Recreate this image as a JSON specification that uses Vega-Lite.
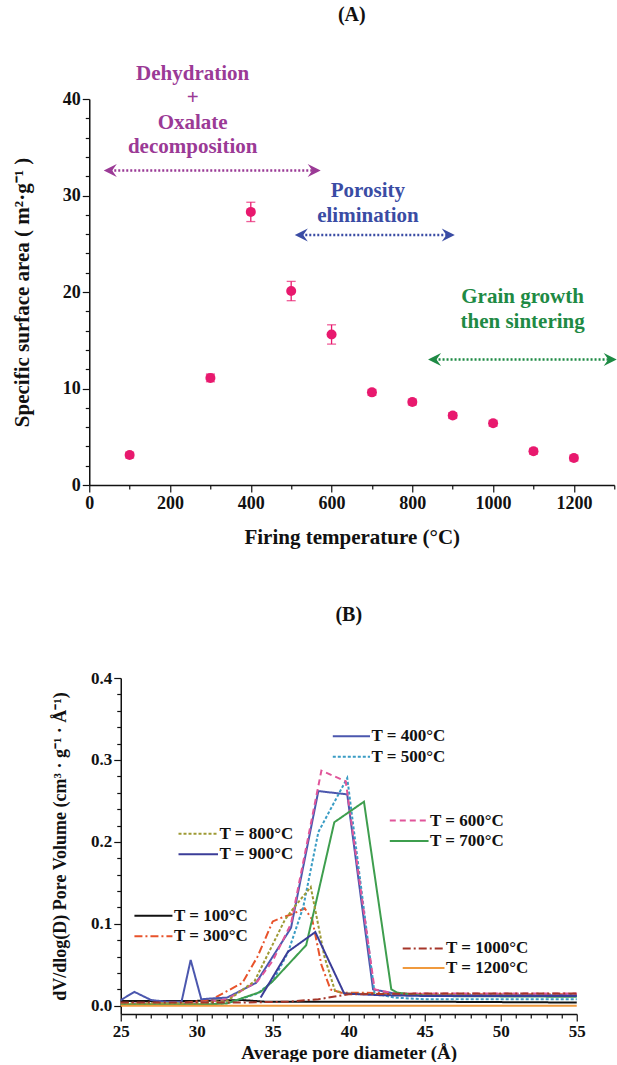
{
  "$schema": "https://vega.github.io/schema/vega-lite/v6.json",
  "padding": {"top": 4, "left": 11, "right": 0, "bottom": 0},
  "spacing": 58,
  "center": true,
  "resolve": {"scale": {"color": "independent", "strokeDash": "independent"}},
  "config": {
    "font": "Liberation Serif",
    "view": {"stroke": null},
    "axis": {
      "labelFont": "Liberation Serif", "labelFontWeight": "bold", "labelFontSize": 18, "labelColor": "#111",
      "titleFont": "Liberation Serif", "titleFontWeight": "bold", "titleFontSize": 21, "titleColor": "#111",
      "domainColor": "#111", "tickColor": "#111", "domainWidth": 1.5, "tickWidth": 1.2,
      "grid": false, "labelOverlap": false, "labelFlush": false
    },
    "title": {"font": "Liberation Serif", "fontWeight": "bold", "fontSize": 20, "color": "#111"}
  },
  "datasets": {
    "ssa": [
      {"T": 100, "S": 3.1, "lo": 2.8, "hi": 3.4},
      {"T": 300, "S": 11.1, "lo": 10.7, "hi": 11.5},
      {"T": 400, "S": 28.3, "lo": 27.3, "hi": 29.3},
      {"T": 500, "S": 20.1, "lo": 19.1, "hi": 21.1},
      {"T": 600, "S": 15.6, "lo": 14.6, "hi": 16.6},
      {"T": 700, "S": 9.6, "lo": 9.3, "hi": 9.9},
      {"T": 800, "S": 8.6, "lo": 8.3, "hi": 8.9},
      {"T": 900, "S": 7.2, "lo": 6.9, "hi": 7.5},
      {"T": 1000, "S": 6.4, "lo": 6.1, "hi": 6.7},
      {"T": 1100, "S": 3.5, "lo": 3.2, "hi": 3.8},
      {"T": 1200, "S": 2.8, "lo": 2.5, "hi": 3.1}
    ],
    "notes": [
      {"x": 256, "y": 42.6, "text": "Dehydration", "g": "a"},
      {"x": 256, "y": 40.1, "text": "+", "g": "a"},
      {"x": 256, "y": 37.5, "text": "Oxalate", "g": "a"},
      {"x": 256, "y": 35.0, "text": "decomposition", "g": "a"},
      {"x": 690, "y": 30.5, "text": "Porosity", "g": "b"},
      {"x": 690, "y": 27.9, "text": "elimination", "g": "b"},
      {"x": 1073, "y": 19.5, "text": "Grain growth", "g": "c"},
      {"x": 1073, "y": 16.9, "text": "then sintering", "g": "c"}
    ],
    "arrows": [
      {"x1": 52, "x2": 557, "y": 32.6, "g": "a"},
      {"x1": 525, "x2": 889, "y": 25.9, "g": "b"},
      {"x1": 855, "x2": 1290, "y": 13.0, "g": "c"}
    ],
    "curves": [
      {"T": "100", "d": 25, "v": 0.006}, {"T": "100", "d": 30, "v": 0.006}, {"T": "100", "d": 33, "v": 0.007}, {"T": "100", "d": 34.5, "v": 0.005}, {"T": "100", "d": 40, "v": 0.005}, {"T": "100", "d": 45, "v": 0.005}, {"T": "100", "d": 55, "v": 0.004},
      {"T": "300", "d": 25, "v": 0.003}, {"T": "300", "d": 29, "v": 0.003}, {"T": "300", "d": 31, "v": 0.008}, {"T": "300", "d": 33, "v": 0.028}, {"T": "300", "d": 34, "v": 0.06}, {"T": "300", "d": 35, "v": 0.103}, {"T": "300", "d": 35.5, "v": 0.107}, {"T": "300", "d": 36.3, "v": 0.112}, {"T": "300", "d": 37.1, "v": 0.119}, {"T": "300", "d": 37.6, "v": 0.105}, {"T": "300", "d": 38.2, "v": 0.05}, {"T": "300", "d": 38.8, "v": 0.02}, {"T": "300", "d": 39.5, "v": 0.016}, {"T": "300", "d": 41, "v": 0.016}, {"T": "300", "d": 45, "v": 0.014}, {"T": "300", "d": 55, "v": 0.014},
      {"T": "400", "d": 25, "v": 0.007}, {"T": "400", "d": 25.9, "v": 0.017}, {"T": "400", "d": 27, "v": 0.007}, {"T": "400", "d": 28, "v": 0.005}, {"T": "400", "d": 29, "v": 0.005}, {"T": "400", "d": 29.6, "v": 0.056}, {"T": "400", "d": 30.3, "v": 0.008}, {"T": "400", "d": 31, "v": 0.009}, {"T": "400", "d": 32, "v": 0.01}, {"T": "400", "d": 33.9, "v": 0.028}, {"T": "400", "d": 35, "v": 0.06}, {"T": "400", "d": 36.2, "v": 0.095}, {"T": "400", "d": 38, "v": 0.262}, {"T": "400", "d": 39.9, "v": 0.258}, {"T": "400", "d": 41.6, "v": 0.02}, {"T": "400", "d": 43, "v": 0.015}, {"T": "400", "d": 45, "v": 0.013}, {"T": "400", "d": 55, "v": 0.013},
      {"T": "500", "d": 25, "v": 0.002}, {"T": "500", "d": 30, "v": 0.002}, {"T": "500", "d": 32, "v": 0.003}, {"T": "500", "d": 34, "v": 0.015}, {"T": "500", "d": 35, "v": 0.03}, {"T": "500", "d": 36, "v": 0.065}, {"T": "500", "d": 37, "v": 0.12}, {"T": "500", "d": 38, "v": 0.212}, {"T": "500", "d": 39.9, "v": 0.278}, {"T": "500", "d": 41.7, "v": 0.015}, {"T": "500", "d": 43, "v": 0.01}, {"T": "500", "d": 45, "v": 0.008}, {"T": "500", "d": 55, "v": 0.008},
      {"T": "600", "d": 25, "v": 0.003}, {"T": "600", "d": 30, "v": 0.003}, {"T": "600", "d": 32, "v": 0.008}, {"T": "600", "d": 34, "v": 0.03}, {"T": "600", "d": 35, "v": 0.055}, {"T": "600", "d": 36.2, "v": 0.1}, {"T": "600", "d": 38.2, "v": 0.287}, {"T": "600", "d": 39.8, "v": 0.274}, {"T": "600", "d": 41.7, "v": 0.02}, {"T": "600", "d": 43, "v": 0.015}, {"T": "600", "d": 45, "v": 0.015}, {"T": "600", "d": 55, "v": 0.015},
      {"T": "700", "d": 25, "v": 0.002}, {"T": "700", "d": 31, "v": 0.002}, {"T": "700", "d": 32, "v": 0.003}, {"T": "700", "d": 34.2, "v": 0.017}, {"T": "700", "d": 35, "v": 0.03}, {"T": "700", "d": 36, "v": 0.05}, {"T": "700", "d": 37.2, "v": 0.074}, {"T": "700", "d": 39.05, "v": 0.224}, {"T": "700", "d": 41, "v": 0.249}, {"T": "700", "d": 42.8, "v": 0.02}, {"T": "700", "d": 43.2, "v": 0.016}, {"T": "700", "d": 45, "v": 0.012}, {"T": "700", "d": 55, "v": 0.011},
      {"T": "800", "d": 25, "v": 0.003}, {"T": "800", "d": 30, "v": 0.003}, {"T": "800", "d": 32, "v": 0.006}, {"T": "800", "d": 33.8, "v": 0.03}, {"T": "800", "d": 35, "v": 0.075}, {"T": "800", "d": 35.8, "v": 0.105}, {"T": "800", "d": 36.4, "v": 0.12}, {"T": "800", "d": 37.5, "v": 0.145}, {"T": "800", "d": 38.4, "v": 0.06}, {"T": "800", "d": 39.1, "v": 0.018}, {"T": "800", "d": 40, "v": 0.015}, {"T": "800", "d": 45, "v": 0.013}, {"T": "800", "d": 55, "v": 0.012},
      {"T": "900", "d": 34.2, "v": 0.01}, {"T": "900", "d": 36, "v": 0.066}, {"T": "900", "d": 37.8, "v": 0.09}, {"T": "900", "d": 39.7, "v": 0.015}, {"T": "900", "d": 42, "v": 0.013}, {"T": "900", "d": 45, "v": 0.012}, {"T": "900", "d": 55, "v": 0.012},
      {"T": "1000", "d": 25, "v": 0.004}, {"T": "1000", "d": 33, "v": 0.004}, {"T": "1000", "d": 36, "v": 0.005}, {"T": "1000", "d": 38, "v": 0.008}, {"T": "1000", "d": 40, "v": 0.014}, {"T": "1000", "d": 45, "v": 0.015}, {"T": "1000", "d": 55, "v": 0.015},
      {"T": "1200", "d": 25, "v": 0.0}, {"T": "1200", "d": 40, "v": 0.0}, {"T": "1200", "d": 55, "v": 0.0}
    ],
    "legend": [
      {"T": "400", "x1": 38.95, "x2": 41.4, "xt": 41.5, "y": 0.329, "label": "T = 400°C"},
      {"T": "500", "x1": 38.95, "x2": 41.4, "xt": 41.5, "y": 0.304, "label": "T = 500°C"},
      {"T": "600", "x1": 42.7, "x2": 45.25, "xt": 45.35, "y": 0.226, "label": "T = 600°C"},
      {"T": "700", "x1": 42.7, "x2": 45.25, "xt": 45.35, "y": 0.201, "label": "T = 700°C"},
      {"T": "800", "x1": 28.8, "x2": 31.4, "xt": 31.5, "y": 0.21, "label": "T = 800°C"},
      {"T": "900", "x1": 28.8, "x2": 31.4, "xt": 31.5, "y": 0.185, "label": "T = 900°C"},
      {"T": "100", "x1": 25.9, "x2": 28.4, "xt": 28.5, "y": 0.11, "label": "T = 100°C"},
      {"T": "300", "x1": 25.9, "x2": 28.4, "xt": 28.5, "y": 0.085, "label": "T = 300°C"},
      {"T": "1000", "x1": 43.55, "x2": 46.3, "xt": 46.4, "y": 0.07, "label": "T = 1000°C"},
      {"T": "1200", "x1": 43.55, "x2": 46.3, "xt": 46.4, "y": 0.046, "label": "T = 1200°C"}
    ]
  },
  "vconcat": [
    {
      "width": 525,
      "height": 386,
      "title": {"text": "(A)", "offset": 38, "anchor": "middle"},
      "encoding": {
        "x": {"type": "quantitative", "scale": {"domain": [0, 1300], "nice": false, "zero": false},
          "axis": {"title": "Firing temperature (°C)", "titlePadding": 14, "format": "d",
            "values": [0,100,200,300,400,500,600,700,800,900,1000,1100,1200,1300],
            "labelExpr": "datum.value % 200 === 0 ? datum.label : ''",
            "tickSize": {"condition": {"test": "datum.value % 200 === 0", "value": 7}, "value": 4}}},
        "y": {"type": "quantitative", "scale": {"domain": [0, 40], "nice": false},
          "axis": {"title": "Specific surface area ( m²·g⁻¹ )", "titlePadding": 30, "format": "d",
            "values": [0,2,4,6,8,10,12,14,16,18,20,22,24,26,28,30,32,34,36,38,40],
            "labelExpr": "datum.value % 10 === 0 ? datum.label : ''",
            "tickSize": {"condition": {"test": "datum.value % 10 === 0", "value": 7}, "value": 4}}}
      },
      "layer": [
        {
          "data": {"name": "ssa"},
          "mark": {"type": "rule", "color": "#E8196E", "strokeWidth": 1.3},
          "encoding": {"x": {"field": "T"}, "y": {"field": "lo"}, "y2": {"field": "hi"}}
        },
        {
          "data": {"name": "ssa"},
          "mark": {"type": "tick", "color": "#E8196E", "size": 9, "thickness": 1.3, "orient": "horizontal"},
          "encoding": {"x": {"field": "T"}, "y": {"field": "lo"}}
        },
        {
          "data": {"name": "ssa"},
          "mark": {"type": "tick", "color": "#E8196E", "size": 9, "thickness": 1.3, "orient": "horizontal"},
          "encoding": {"x": {"field": "T"}, "y": {"field": "hi"}}
        },
        {
          "data": {"name": "ssa"},
          "mark": {"type": "point", "shape": "circle", "filled": true, "opacity": 1, "size": 100, "color": "#E8196E"},
          "encoding": {"x": {"field": "T"}, "y": {"field": "S"}}
        },
        {
          "data": {"name": "arrows"},
          "mark": {"type": "rule", "strokeWidth": 2.5, "strokeDash": [2, 2]},
          "encoding": {"x": {"field": "x1"}, "x2": {"field": "x2"}, "y": {"field": "y"},
            "color": {"field": "g", "type": "nominal", "scale": {"domain": ["a","b","c"], "range": ["#9B3A96","#3A4CA4","#1E8A44"]}, "legend": null}}
        },
        {
          "data": {"name": "arrows"},
          "mark": {"type": "point", "shape": "M-1,0 L1,-1 L0.3,0 L1,1 Z", "filled": true, "opacity": 1, "size": 170},
          "encoding": {"x": {"field": "x1"}, "y": {"field": "y"},
            "color": {"field": "g", "type": "nominal", "legend": null}}
        },
        {
          "data": {"name": "arrows"},
          "mark": {"type": "point", "shape": "M1,0 L-1,-1 L-0.3,0 L-1,1 Z", "filled": true, "opacity": 1, "size": 170},
          "encoding": {"x": {"field": "x2"}, "y": {"field": "y"},
            "color": {"field": "g", "type": "nominal", "legend": null}}
        },
        {
          "data": {"name": "notes"},
          "mark": {"type": "text", "font": "Liberation Serif", "fontWeight": "bold", "fontSize": 21, "align": "center", "baseline": "middle"},
          "encoding": {"x": {"field": "x"}, "y": {"field": "y"}, "text": {"field": "text"},
            "color": {"field": "g", "type": "nominal", "legend": null}}
        }
      ]
    },
    {
      "width": 456,
      "height": 336,
      "title": {"text": "(B)", "offset": 44, "anchor": "middle"},
      "encoding": {
        "x": {"type": "quantitative", "scale": {"domain": [25, 55], "nice": false, "zero": false},
          "axis": {"title": "Average pore diameter (Å)", "titlePadding": 4, "titleFontSize": 19, "labelFontSize": 17,
            "values": [25,26,27,28,29,30,31,32,33,34,35,36,37,38,39,40,41,42,43,44,45,46,47,48,49,50,51,52,53,54,55],
            "labelExpr": "datum.value % 5 === 0 ? datum.label : ''",
            "tickSize": {"condition": {"test": "datum.value % 5 === 0", "value": 7}, "value": 4}}},
        "y": {"type": "quantitative", "scale": {"domain": [-0.01, 0.4], "nice": false, "zero": false},
          "axis": {"title": "dV/dlog(D) Pore Volume (cm³ · g⁻¹ · Å⁻¹)", "titlePadding": 21, "titleFontSize": 18, "labelFontSize": 17,
            "values": [0,0.02,0.04,0.06,0.08,0.1,0.12,0.14,0.16,0.18,0.2,0.22,0.24,0.26,0.28,0.3,0.32,0.34,0.36,0.38,0.4],
            "labelExpr": "abs(datum.value*10 - round(datum.value*10)) < 0.000001 ? format(datum.value, '.1f') : ''",
            "tickSize": {"condition": {"test": "abs(datum.value*10 - round(datum.value*10)) < 0.000001", "value": 7}, "value": 4}}}
      },
      "layer": [
        {
          "data": {"name": "curves"},
          "mark": {"type": "line", "strokeWidth": 2},
          "encoding": {
            "x": {"field": "d"}, "y": {"field": "v"},
            "color": {"field": "T", "type": "nominal", "legend": null,
              "scale": {"domain": ["100","300","400","500","600","700","800","900","1000","1200"],
                "range": ["#111111","#E8532B","#4B57AE","#3A9CC4","#E0559A","#3E9E4E","#9E9A34","#3B3D98","#A6362A","#F09A3E"]}},
            "strokeDash": {"field": "T", "type": "nominal", "legend": null,
              "scale": {"domain": ["100","300","400","500","600","700","800","900","1000","1200"],
                "range": [[1,0],[8,3,2,3],[1,0],[3,2],[6,4],[1,0],[3,2],[1,0],[8,3,2,3],[1,0]]}}
          }
        },
        {
          "data": {"name": "legend"},
          "mark": {"type": "rule", "strokeWidth": 2},
          "encoding": {
            "x": {"field": "x1"}, "x2": {"field": "x2"}, "y": {"field": "y"},
            "color": {"field": "T", "type": "nominal", "legend": null},
            "strokeDash": {"field": "T", "type": "nominal", "legend": null}
          }
        },
        {
          "data": {"name": "legend"},
          "mark": {"type": "text", "font": "Liberation Serif", "fontWeight": "bold", "fontSize": 17, "align": "left", "baseline": "middle", "color": "#111"},
          "encoding": {"x": {"field": "xt"}, "y": {"field": "y"}, "text": {"field": "label"}}
        }
      ]
    }
  ]
}
